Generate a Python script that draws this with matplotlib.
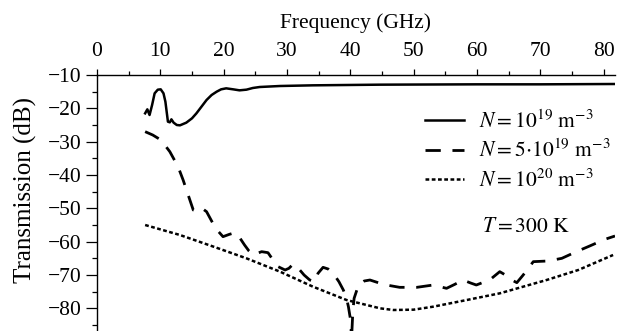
import matplotlib
matplotlib.use("Agg")
import matplotlib.pyplot as plt
from matplotlib.ticker import MultipleLocator

plt.rcParams['font.family'] = ['Liberation Serif', 'DejaVu Serif']
plt.rcParams['mathtext.fontset'] = 'stix'

# N = 1e19 m^-3 (solid)
f1 = [7.6, 7.95, 8.3, 8.7, 9.1, 9.6, 10.06, 10.5, 10.8, 11.2, 11.5, 11.75, 12.1, 12.6,
      13.1, 14.1, 15.0, 15.7, 16.5, 17.3, 18.1, 18.9, 19.6, 20.4, 21.5, 22.5, 23.6,
      24.6, 25.7, 28.9, 34.1, 44.7, 60.0, 70.0, 81.8]
t1 = [-21.5, -20.3, -22.0, -19.0, -15.5, -14.4, -14.3, -15.5, -18.0, -24.0, -24.2, -23.3,
      -24.3, -25.0, -25.1, -24.3, -23.0, -21.5, -19.5, -17.5, -16.0, -15.0, -14.3, -14.0,
      -14.3, -14.6, -14.4, -13.9, -13.6, -13.3, -13.1, -12.9, -12.8, -12.8, -12.7]

# N = 5e19 m^-3 (dashed)
f2 = [7.6, 8.8, 10.1, 11.5, 12.8, 13.6, 14.4, 15.2, 15.7, 16.2, 16.8, 17.3, 18.3, 19.1,
      19.9, 20.9, 21.8, 22.6, 23.3, 24.0, 24.7, 25.3, 26.0, 27.0, 27.8, 28.6, 29.7, 30.3,
      31.0, 31.8, 32.7, 33.6, 34.4, 34.9, 35.7, 36.5, 37.3, 38.2, 38.9, 39.4, 39.7, 40.0,
      40.2, 40.4, 40.6, 41.3, 42.2, 43.1, 44.4, 45.7, 47.8, 50.5, 53.1, 55.2, 56.5, 57.8,
      59.0, 59.9, 61.0, 62.0, 63.6, 64.5, 65.5, 66.3, 67.3, 68.9, 71.2, 73.4, 75.7, 77.8,
      80.2, 81.8]
t2 = [-27.0, -28.0, -29.5, -33.0, -37.5, -41.5, -46.0, -50.5, -50.8, -50.0, -50.3, -51.0,
      -54.5, -56.8, -58.5, -57.8, -57.3, -59.0, -61.0, -62.8, -64.0, -63.5, -63.0, -63.3,
      -65.5, -67.5, -68.5, -68.0, -66.7, -68.0, -70.0, -71.5, -72.0, -69.5, -67.7, -68.2,
      -69.5, -72.0, -74.5, -77.0, -79.5, -83.0, -89.0, -81.0, -77.0, -73.0, -71.8, -71.5,
      -72.3, -73.0, -73.7, -73.7, -73.0, -74.0, -72.8, -71.5, -72.4, -73.0, -72.2, -71.5,
      -69.0, -70.0, -71.5, -72.3, -70.0, -66.0, -65.8, -65.0, -63.0, -61.3, -59.3, -58.3]

# N = 1e20 m^-3 (dotted)
f3 = [7.6, 13.1, 18.4, 23.6, 28.9, 34.1, 39.4, 44.7, 46.8, 50.0, 53.1, 58.4, 63.6, 71.0,
      76.0, 81.5]
t3 = [-55.0, -58.0, -61.5, -65.0, -69.0, -73.5, -77.5, -80.0, -80.5, -80.4, -79.5, -77.5,
      -75.5, -71.5, -68.5, -64.0]

labels = [r'$N = 10^{19}\ \mathrm{m}^{-3}$',
          r'$N = 5{\cdot}10^{19}\ \mathrm{m}^{-3}$',
          r'$N = 10^{20}\ \mathrm{m}^{-3}$']
x_ticks = [0, 10, 20, 30, 40, 50, 60, 70, 80]
y_ticks = [-10, -20, -30, -40, -50, -60, -70, -80]

W, H = 626, 331
fig = plt.figure(figsize=(W / 100, H / 100), dpi=100)
ax = fig.add_axes([97 / W, 0, (615 - 97) / W, (331 - 75) / H])

lw = 1.8
ax.plot(f1, t1, color='black', lw=lw, solid_joinstyle='round', label=labels[0])
ax.plot(f2, t2, color='black', lw=lw + 0.2, dashes=(5.5, 4.2), label=labels[1])
ax.plot(f3, t3, color='black', lw=lw, dashes=(1.5, 1.0), label=labels[2])

ax.set_xlim(0, 81.8)
ax.set_ylim(-86.8, -10)

ax.xaxis.tick_top()
ax.xaxis.set_label_position('top')
ax.set_xticks(x_ticks)
ax.xaxis.set_minor_locator(MultipleLocator(5))
ax.set_yticks(y_ticks)
ax.yaxis.set_minor_locator(MultipleLocator(5))

for s in ['right', 'bottom']:
    ax.spines[s].set_visible(False)
for s in ['top', 'left']:
    ax.spines[s].set_linewidth(1.0)

ax.tick_params(axis='x', which='major', direction='out', length=4.5, width=0.9,
               labelsize=15.5, pad=5.5, top=True, bottom=False)
ax.tick_params(axis='x', which='minor', direction='out', length=3, width=0.9,
               top=True, bottom=False)
ax.tick_params(axis='y', which='major', direction='out', length=8, width=0.9,
               labelsize=15.5, pad=3)
ax.tick_params(axis='y', which='minor', direction='out', length=3.6, width=0.9)

ax.set_xlabel('Frequency (GHz)', fontsize=15.5, labelpad=10)
fig.text(25 / W, 1 - 190 / H, 'Transmission (dB)', rotation=90, fontsize=18,
         ha='center', va='center')

ax.legend(loc='upper left', bbox_to_anchor=(425 / W, 1 - 110 / H),
          bbox_transform=fig.transFigure, frameon=False, fontsize=15.5,
          handlelength=1.8, handletextpad=0.7, labelspacing=0.34, borderpad=0,
          borderaxespad=0)

fig.text(482 / W, 1 - 227 / H, r'$T = 300\ \mathrm{K}$', fontsize=15.5,
         ha='left', va='center')

fig.savefig('out.png', dpi=100)
